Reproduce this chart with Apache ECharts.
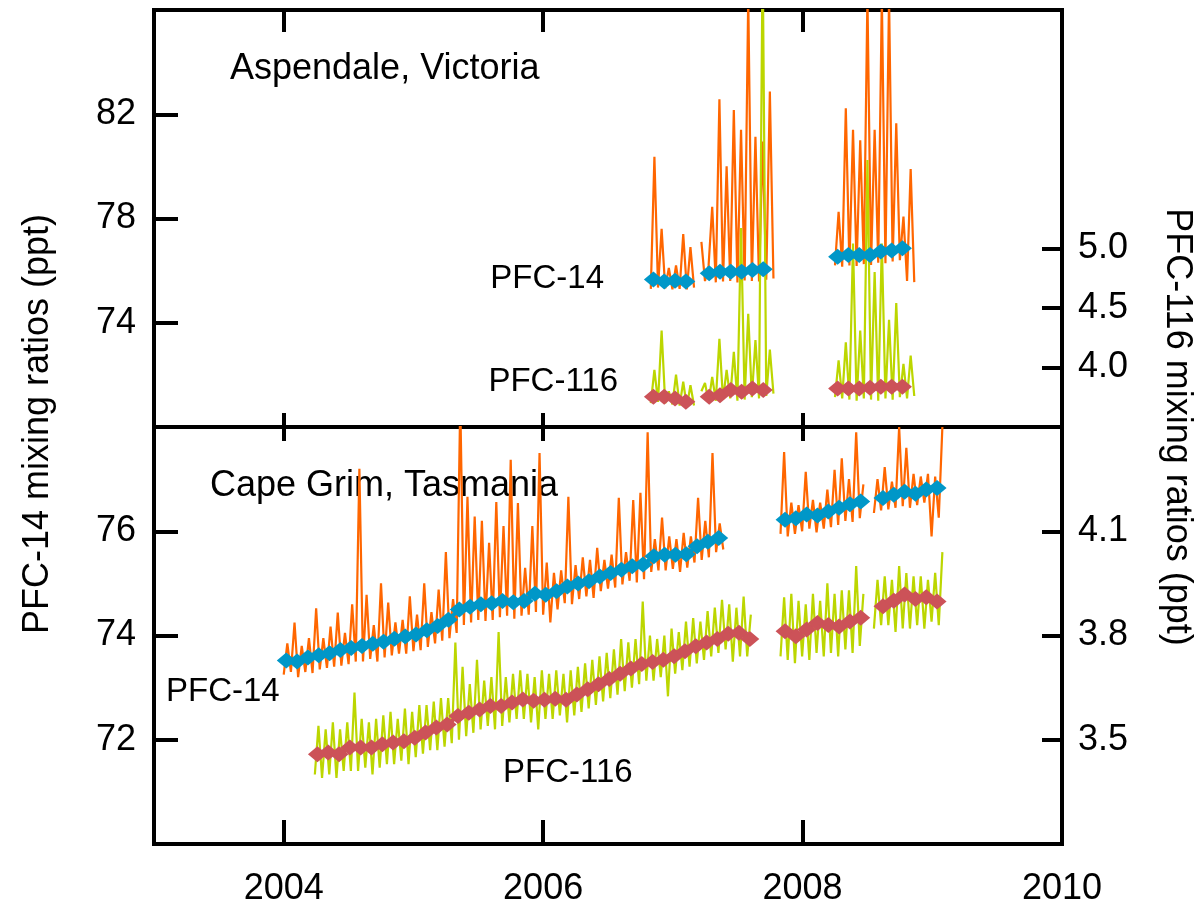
<!DOCTYPE html>
<html>
<head>
<meta charset="utf-8">
<title>PFC-14 and PFC-116 at Aspendale and Cape Grim</title>
<script src="https://cdn.jsdelivr.net/npm/echarts@6/dist/echarts.min.js"></script>
<style>
  html, body { margin: 0; padding: 0; background: #fff; }
  #main { width: 1200px; height: 907px; }
</style>
</head>
<body>
<div id="main"></div>
<script>
// values; x is decimal year, y is ppt
const xTicks = [2004, 2006, 2008, 2010];
const topLeftTicks = [74, 78, 82];
const topRightTicks = [4.0, 4.5, 5.0];
const botLeftTicks = [72, 74, 76];
const botRightTicks = [3.5, 3.8, 4.1];

const rawStep = 1 / 36;   // in situ samples, ~10 days apart
const monthStep = 1 / 12; // monthly baseline means

// ---- Cape Grim (bottom panel) ----
const cgPfc14RawStart = [2004.0, 2007.83, 2008.55];
const cgPfc14RawA = [
  73.25, 73.85, 73.30, 74.25, 73.20, 73.80, 73.30, 73.95, 73.28, 74.52, 73.35, 73.95,
  73.38, 74.17, 73.40, 74.44, 73.42, 74.05, 73.45, 74.60, 73.50, 77.20, 73.50, 74.78,
  73.55, 74.20, 73.50, 75.00, 73.58, 74.63, 73.62, 74.25, 73.65, 74.30, 73.65, 74.75,
  73.70, 74.40, 73.72, 75.00, 73.78, 74.45, 73.85, 74.88, 73.90, 75.60, 73.95, 74.70,
  74.05, 78.50, 74.20, 76.66, 74.25, 76.28, 74.30, 76.20, 74.28, 75.78, 74.30, 76.56,
  74.35, 76.10, 74.38, 77.37, 74.32, 76.54, 74.38, 75.30, 74.40, 76.10, 74.45, 77.50,
  74.40, 75.40, 74.25, 75.20, 74.50, 75.25, 74.62, 76.66, 74.60, 75.35, 74.70, 75.50,
  74.75, 75.45, 74.72, 75.68, 74.85, 75.45, 74.90, 75.55, 74.92, 76.64, 74.98, 75.60,
  75.05, 76.60, 75.02, 76.74, 75.08, 77.90, 75.22, 75.85, 75.25, 76.26, 75.25, 75.90,
  75.28, 75.85, 75.22, 75.97, 75.30, 75.90, 75.40, 76.64, 75.45, 76.20, 75.50, 77.50,
  75.60, 76.15, 75.65
];
const cgPfc14RawB = [
  75.95, 77.52, 75.90, 76.55, 75.95, 76.50, 76.00, 77.14, 76.05, 76.60, 75.98, 76.55,
  76.05, 76.80, 76.08, 77.18, 76.12, 77.40, 76.20, 77.00, 76.18, 77.90, 76.25, 76.90
];
const cgPfc14RawC = [
  76.35, 77.00, 76.40, 77.23, 76.42, 76.95, 76.45, 78.00, 76.48, 77.60, 76.45, 77.10,
  76.50, 77.05, 76.55, 77.10, 75.90, 77.05, 76.26, 78.00
];
const cgPfc14MonthStart = [2004.02, 2007.865, 2008.62];
const cgPfc14MonthA = [
  73.52, 73.50, 73.58, 73.62, 73.66, 73.72, 73.76, 73.80, 73.84, 73.88, 73.94, 73.98,
  74.02, 74.10, 74.18, 74.30, 74.50, 74.55, 74.60, 74.62, 74.66, 74.64, 74.66, 74.80,
  74.78, 74.85, 74.94, 75.00, 75.04, 75.13, 75.20, 75.26, 75.33, 75.36, 75.52, 75.55,
  75.55, 75.56, 75.71, 75.80, 75.87
];
const cgPfc14MonthB = [76.22, 76.25, 76.32, 76.30, 76.38, 76.45, 76.52, 76.57];
const cgPfc14MonthC = [76.64, 76.70, 76.76, 76.72, 76.80, 76.83];

const cgPfc116RawStart = [2004.24, 2007.83, 2008.55];
const cgPfc116RawA = [
  3.40, 3.54, 3.39, 3.53, 3.40, 3.55, 3.39, 3.53, 3.41, 3.55, 3.41, 3.636,
  3.41, 3.56, 3.42, 3.55, 3.40, 3.56, 3.42, 3.57, 3.43, 3.58, 3.43, 3.56,
  3.44, 3.59, 3.43, 3.58, 3.45, 3.60, 3.46, 3.60, 3.47, 3.61, 3.47, 3.62,
  3.48, 3.62, 3.49, 3.78, 3.50, 3.71, 3.51, 3.66, 3.52, 3.73, 3.53, 3.67,
  3.54, 3.68, 3.53, 3.81, 3.54, 3.68, 3.55, 3.69, 3.56, 3.70, 3.56, 3.69,
  3.55, 3.68, 3.53, 3.70, 3.56, 3.69, 3.56, 3.70, 3.57, 3.69, 3.55, 3.70,
  3.57, 3.71, 3.58, 3.72, 3.59, 3.73, 3.60, 3.74, 3.61, 3.75, 3.62, 3.76,
  3.63, 3.79, 3.64, 3.78, 3.65, 3.79, 3.66, 3.898, 3.67, 3.80, 3.67, 3.79,
  3.68, 3.80, 3.625, 3.82, 3.69, 3.81, 3.70, 3.84, 3.71, 3.85, 3.72, 3.84,
  3.73, 3.87, 3.74, 3.88, 3.75, 3.903, 3.76, 3.89, 3.725, 3.88, 3.74, 3.912,
  3.74, 3.86
];
const cgPfc116RawB = [
  3.74, 3.91, 3.73, 3.92, 3.72, 3.90, 3.74, 3.89, 3.73, 3.92, 3.75, 3.90,
  3.74, 3.95, 3.75, 3.92, 3.74, 3.93, 3.76, 3.93, 3.75, 4.00, 3.77, 3.92
];
const cgPfc116RawC = [
  3.82, 3.96, 3.83, 3.97, 3.83, 3.96, 3.81, 4.00, 3.82, 3.98, 3.82, 3.97,
  3.83, 3.97, 3.82, 3.96, 3.84, 3.98, 3.83, 4.04
];
const cgPfc116MonthStart = [2004.26, 2007.865, 2008.62];
const cgPfc116MonthA = [
  3.458, 3.463, 3.458, 3.478, 3.478, 3.478, 3.487, 3.492, 3.496,
  3.506, 3.521, 3.535, 3.544, 3.568, 3.578, 3.587, 3.597, 3.597, 3.607, 3.616, 3.612,
  3.615, 3.618, 3.615, 3.630, 3.645, 3.660, 3.675, 3.690, 3.705, 3.718, 3.724, 3.730,
  3.740, 3.755, 3.769, 3.780, 3.790, 3.805, 3.808, 3.790
];
const cgPfc116MonthB = [3.812, 3.798, 3.817, 3.836, 3.830, 3.826, 3.840, 3.851];
const cgPfc116MonthC = [3.884, 3.900, 3.918, 3.905, 3.910, 3.898];

// ---- Aspendale (top panel) ----
const asPfc14RawStart = [2006.83, 2007.22, 2008.25];
const asPfc14RawA = [75.30, 80.37, 75.35, 77.60, 75.32, 76.10, 75.28, 76.20, 75.30, 77.40, 75.28, 76.90, 75.35];
const asPfc14RawB = [
  77.10, 75.60, 76.20, 78.45, 75.55, 82.57, 75.58, 80.00, 75.60, 82.16, 75.55, 81.40,
  75.62, 86.50, 75.60, 81.14, 75.58, 80.95, 75.65, 82.87, 75.70
];
const asPfc14RawC = [
  76.20, 78.26, 76.15, 82.23, 76.20, 81.40, 76.18, 81.00, 76.25, 86.50, 76.22, 81.40,
  76.30, 86.50, 76.28, 86.50, 76.35, 81.65, 76.40, 78.07, 75.60, 79.90, 75.56
];
const asPfc14MonthStart = [2006.85, 2007.28, 2008.27];
const asPfc14MonthA = [75.66, 75.58, 75.61, 75.58];
const asPfc14MonthB = [75.90, 75.96, 75.96, 75.96, 76.02, 76.05];
const asPfc14MonthC = [76.53, 76.60, 76.60, 76.60, 76.73, 76.77, 76.86];

const asPfc116RawStart = [2006.83, 2007.22, 2008.25];
const asPfc116RawA = [3.70, 3.98, 3.71, 4.31, 3.70, 3.80, 3.69, 3.94, 3.68, 3.88, 3.67, 3.85, 3.68];
const asPfc116RawB = [
  3.80, 3.87, 3.71, 3.92, 3.72, 4.24, 3.73, 3.98, 3.74, 4.13, 3.72, 5.17,
  3.73, 4.45, 3.75, 4.23, 3.74, 7.50, 3.76, 4.15, 3.78
];
const asPfc116RawC = [
  3.75, 4.06, 3.74, 4.21, 3.73, 5.04, 3.72, 4.31, 3.74, 5.74, 3.73, 4.80,
  3.72, 5.04, 3.74, 4.40, 3.73, 4.54, 3.75, 4.03, 3.74, 4.10, 3.76
];
const asPfc116MonthStart = [2006.85, 2007.28, 2008.27];
const asPfc116MonthA = [3.753, 3.753, 3.739, 3.711];
const asPfc116MonthB = [3.753, 3.767, 3.810, 3.795, 3.823, 3.810];
const asPfc116MonthC = [3.823, 3.823, 3.823, 3.830, 3.837, 3.837, 3.837];

// ---- styling ----
const orange = '#ff6600';
const green = '#bcd600';
const blue = '#0097c8';
const rose = '#cc5258';
const fontFamily = '"Liberation Sans", Arial, sans-serif';

function pairs(start, step, values) {
  return values.map((v, i) => [start + i * step, v]);
}

function rawSeries(xi, yi, color, starts, segs) {
  return segs.map((vals, s) => ({
    type: 'line',
    xAxisIndex: xi,
    yAxisIndex: yi,
    data: pairs(starts[s], rawStep, vals),
    showSymbol: false,
    lineStyle: { color: color, width: 2.2 },
    silent: true,
    animation: false
  }));
}

function monthSeries(xi, yi, color, starts, segs) {
  return segs.map((vals, s) => ({
    type: 'line',
    xAxisIndex: xi,
    yAxisIndex: yi,
    data: pairs(starts[s], monthStep, vals),
    symbol: 'diamond',
    symbolSize: [19, 16],
    itemStyle: { color: color },
    lineStyle: { color: color, width: 4 },
    silent: true,
    animation: false
  }));
}

function xAxis(grid, pos, tickLen, showLabel) {
  return {
    type: 'value',
    gridIndex: grid,
    position: pos,
    min: 2003,
    max: 2010,
    axisLine: { show: false },
    splitLine: { show: false },
    axisTick: {
      show: true, inside: true, length: tickLen,
      customValues: [2004, 2006, 2008],
      lineStyle: { color: '#000', width: 4 }
    },
    axisLabel: {
      show: showLabel,
      customValues: xTicks,
      margin: 27,
      color: '#000',
      fontSize: 36,
      fontFamily: fontFamily,
      formatter: v => String(Math.round(v))
    }
  };
}

function yAxis(grid, pos, min, max, ticks, digits, margin) {
  return {
    type: 'value',
    gridIndex: grid,
    position: pos,
    min: min,
    max: max,
    axisLine: { show: false },
    splitLine: { show: false },
    axisTick: {
      show: true, inside: true, length: pos === 'left' ? 24 : 20,
      customValues: ticks,
      lineStyle: { color: '#000', width: 4 }
    },
    axisLabel: {
      customValues: ticks,
      margin: margin,
      color: '#000',
      fontSize: 36,
      fontFamily: fontFamily,
      formatter: v => Number(v).toFixed(digits)
    }
  };
}

function label(text, x, y, align, size, rotation) {
  return {
    type: 'text',
    x: x,
    y: y,
    rotation: rotation || 0,
    silent: true,
    style: {
      text: text,
      fill: '#000',
      font: size + 'px ' + fontFamily,
      align: align,
      textAlign: align,
      verticalAlign: 'middle',
      textVerticalAlign: 'middle'
    }
  };
}

const chart = echarts.init(document.getElementById('main'), null, { renderer: 'canvas' });

chart.setOption({
  backgroundColor: '#fff',
  animation: false,
  grid: [
    { left: 154, top: 10, width: 908, height: 417, show: true, borderColor: '#000', borderWidth: 4, backgroundColor: 'transparent' },
    { left: 154, top: 427, width: 908, height: 418, show: true, borderColor: '#000', borderWidth: 4, backgroundColor: 'transparent' }
  ],
  xAxis: [
    xAxis(0, 'bottom', 14, false),
    xAxis(0, 'top', 22, false),
    xAxis(1, 'top', 14, false),
    xAxis(1, 'bottom', 24, true)
  ],
  yAxis: [
    yAxis(0, 'left', 70, 86, topLeftTicks, 0, 18),
    yAxis(0, 'right', 3.5, 7.0, topRightTicks, 1, 16),
    yAxis(1, 'left', 70, 78, botLeftTicks, 0, 18),
    yAxis(1, 'right', 3.2, 4.4, botRightTicks, 1, 16)
  ],
  series: [].concat(
    rawSeries(0, 0, orange, asPfc14RawStart, [asPfc14RawA, asPfc14RawB, asPfc14RawC]),
    rawSeries(3, 2, orange, cgPfc14RawStart, [cgPfc14RawA, cgPfc14RawB, cgPfc14RawC]),
    monthSeries(0, 0, blue, asPfc14MonthStart, [asPfc14MonthA, asPfc14MonthB, asPfc14MonthC]),
    monthSeries(3, 2, blue, cgPfc14MonthStart, [cgPfc14MonthA, cgPfc14MonthB, cgPfc14MonthC]),
    rawSeries(0, 1, green, asPfc116RawStart, [asPfc116RawA, asPfc116RawB, asPfc116RawC]),
    rawSeries(3, 3, green, cgPfc116RawStart, [cgPfc116RawA, cgPfc116RawB, cgPfc116RawC]),
    monthSeries(0, 1, rose, asPfc116MonthStart, [asPfc116MonthA, asPfc116MonthB, asPfc116MonthC]),
    monthSeries(3, 3, rose, cgPfc116MonthStart, [cgPfc116MonthA, cgPfc116MonthB, cgPfc116MonthC])
  ),
  graphic: [
    label('PFC-14 mixing ratios (ppt)', 38, 424, 'center', 36, Math.PI / 2),
    label('PFC-116 mixing ratios (ppt)', 1177, 427, 'center', 36, -Math.PI / 2),
    label('Aspendale, Victoria', 230, 69, 'left', 36),
    label('Cape Grim, Tasmania', 210, 486, 'left', 36),
    label('PFC-14', 604, 279, 'right', 33),
    label('PFC-116', 618, 382, 'right', 33),
    label('PFC-14', 166, 692, 'left', 33),
    label('PFC-116', 503, 773, 'left', 33)
  ]
});
</script>
</body>
</html>
